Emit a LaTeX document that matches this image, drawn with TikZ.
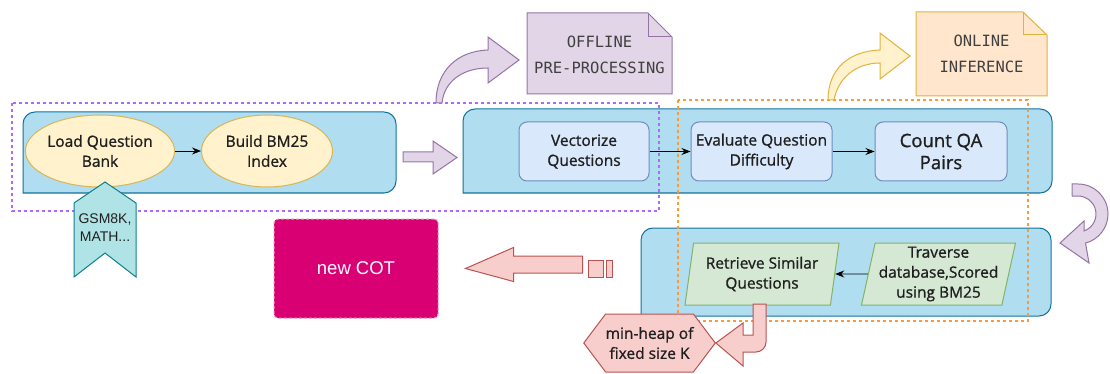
\documentclass[tikz,border=0pt]{standalone}
\usepackage{fontspec}
\setmainfont{Open Sans}[FakeBold=1]
\newfontfamily\arialfont{Liberation Sans}
\newfontfamily\notefont{DejaVu Sans Mono}
\usetikzlibrary{shapes.geometric, shapes.symbols, arrows.meta, positioning}

\definecolor{panelfill}{HTML}{B1DDF0}
\definecolor{panelline}{HTML}{10739E}
\definecolor{bubblefill}{HTML}{FFF2CC}
\definecolor{bubbleline}{HTML}{D6B656}
\definecolor{taskfill}{HTML}{DAE8FC}
\definecolor{taskline}{HTML}{6C8EBF}
\definecolor{leanfill}{HTML}{D5E8D4}
\definecolor{leanline}{HTML}{82B366}
\definecolor{heapfill}{HTML}{F8CECC}
\definecolor{heapline}{HTML}{B85450}
\definecolor{markfill}{HTML}{B0E3E6}
\definecolor{markline}{HTML}{0E8088}
\definecolor{lilacfill}{HTML}{E1D5E7}
\definecolor{lilacline}{HTML}{9673A6}
\definecolor{peachfill}{HTML}{FFE6CC}
\definecolor{goldline}{HTML}{E0B33C}
\definecolor{cotfill}{HTML}{D80073}
\definecolor{offdash}{HTML}{B266FF}
\definecolor{ondash}{HTML}{FF9933}
\definecolor{inktext}{HTML}{1F1F1F}

\newcommand{\stepfont}{\fontsize{15.5}{20}\selectfont}

\begin{document}
\begin{tikzpicture}[x=1pt, y=-1pt, line width=1pt,
    panel/.style={draw=panelline, fill=panelfill},
    bubble/.style={ellipse, draw=bubbleline, fill=bubblefill, minimum width=131pt,
        minimum height=72pt, inner sep=0pt, align=center, font=\stepfont, text=inktext},
    task/.style={rectangle, rounded corners=8pt, draw=taskline, fill=taskfill,
        minimum height=59pt, inner sep=0pt, align=center, font=\stepfont, text=inktext},
    lean/.style={trapezium, trapezium left angle=76, trapezium right angle=104,
        trapezium stretches body, draw=leanline, fill=leanfill, minimum width=154pt,
        minimum height=62pt, inner sep=0pt, align=center, font=\stepfont, text=inktext},
    region/.style={dash pattern=on 3pt off 3pt, line width=1.1pt},
    notelabel/.style={align=center, font=\notefont\fontsize{15.5}{26}\selectfont, text=black!75},
    flow/.style={-{Stealth[length=9pt, width=7pt]}, line width=0.9pt}]

\useasboundingbox (0,0) rectangle (1110,374);

% panels (bottom-left corner kept square)
\draw[panel] (23,193) -- (23,124) arc[start angle=180, end angle=270, radius=12]
    -- (384,112) arc[start angle=270, end angle=360, radius=12]
    -- (396,181) arc[start angle=0, end angle=90, radius=12] -- cycle;
\draw[panel] (463,193) -- (463,121) arc[start angle=180, end angle=270, radius=12]
    -- (1040,109) arc[start angle=270, end angle=360, radius=12]
    -- (1052,181) arc[start angle=0, end angle=90, radius=12] -- cycle;
\draw[panel] (641,316) -- (641,240) arc[start angle=180, end angle=270, radius=12]
    -- (1039,228) arc[start angle=270, end angle=360, radius=12]
    -- (1051,304) arc[start angle=0, end angle=90, radius=12] -- cycle;

% offline / online regions
\draw[region, offdash] (12,103) rectangle (659,211);
\draw[region, ondash] (678,100) rectangle (1028,321);

% offline stage
\node[bubble] (load) at (100,151) {Load Question\\Bank};
\node[bubble] (bm25) at (267,151) {Build BM25\\Index};
\draw[flow] (load) -- (bm25);

\draw[fill=markfill, draw=markline] (74,203) -- (105,182) -- (136,203) -- (136,277)
    -- (105,253) -- (74,277) -- cycle;
\node[align=center, font=\arialfont\fontsize{14}{18}\selectfont, text=inktext] (gsm) at (105,228) {GSM8K,\\MATH...};

% hand-over to the online stage
\draw[fill=lilacfill, draw=lilacline] (403,152) -- (433,152) -- (433,141) -- (457,157.5)
    -- (433,174) -- (433,162) -- (403,162) -- cycle;

% online stage, upper row
\node[task, minimum width=130pt] (vec) at (584,151.5) {Vectorize\\Questions};
\node[task, minimum width=141pt] (diff) at (761.5,151.5) {Evaluate Question\\Difficulty};
\node[task, minimum width=132pt, font=\fontsize{18.5}{22}\selectfont] (count) at (941,151.5) {Count QA\\Pairs};
\draw[flow] (vec) -- (diff);
\draw[flow] (diff) -- (count);

% turn down to the lower row
\draw[fill=lilacfill, draw=lilacline] (1072,184) -- (1078,184)
    arc[start angle=-90, end angle=75.5, radius=30]
    -- (1089,263) -- (1060,243) -- (1084,221) -- (1084,231)
    arc[start angle=70.5, end angle=-90, radius=18] -- (1072,196) -- cycle;

% online stage, lower row
\node[lean] (retr) at (762,274) {Retrieve Similar\\Questions};
\node[lean] (trav) at (938.5,274) {Traverse\\database,Scored\\using BM25};
\draw[flow] (trav) -- (retr);

\node[signal, signal to=west and east, signal pointer angle=106, draw=heapline, fill=heapfill,
    minimum width=131pt, minimum height=58pt, inner sep=0pt, align=center, font=\stepfont,
    text=inktext] (heap) at (649.5,343) {min-heap of\\fixed size K};
\draw[fill=heapfill, draw=heapline] (753,304) -- (753,335) -- (743,335) -- (743,323)
    -- (heap.east) -- (743,366) -- (743,352) -- (756,352)
    arc[start angle=90, end angle=0, radius=10] -- (766,304) -- cycle;

% result
\node[rectangle, rounded corners=4pt, fill=cotfill, draw=cotfill!45!white,
    dash pattern=on 3pt off 2pt, minimum width=164pt, minimum height=99pt,
    font=\arialfont\fontsize{18.5}{22}\selectfont, text=white] (cot) at (356,268.5) {new COT};
\draw[fill=heapfill, draw=heapline] (cot.east) ++(27,0) coordinate (tip)
    -- ++(48,-21) -- ++(0,8.5) -- ++(69,0) -- ++(0,17) -- ++(-69,0) -- ++(0,8.5) -- cycle;
\draw[fill=heapfill, draw=heapline] (588,260) rectangle (603,277);
\draw[fill=heapfill, draw=heapline] (606,260) rectangle (612,277);

% stage notes
\draw[fill=lilacfill, draw=lilacline] (436,103) .. controls (436,70) and (458,51) .. (488,50)
    -- (488,37) -- (519,60) -- (488,83) -- (488,68)
    .. controls (462,68) and (444,82) .. (442,103) -- cycle;
\draw[fill=lilacfill, draw=lilacline] (527,13) -- (648,13) -- (672,37) -- (672,94)
    -- (527,94) -- cycle;
\draw[draw=lilacline] (648,13) -- (648,37) -- (672,37);
\node[notelabel] (offnote) at (599.5,55) {OFFLINE\\PRE-PROCESSING};

\draw[fill=bubblefill, draw=goldline] (828,100) .. controls (828,68) and (850,51) .. (880,50)
    -- (880,33) -- (910,56) -- (880,79) -- (880,63)
    .. controls (856,63) and (838,78) .. (834,100) -- cycle;
\draw[fill=peachfill, draw=goldline] (916,12) -- (1023,12) -- (1047,35) -- (1047,96)
    -- (916,96) -- cycle;
\draw[draw=goldline] (1023,12) -- (1023,35) -- (1047,35);
\node[notelabel] (onnote) at (981.5,54) {ONLINE\\INFERENCE};

\end{tikzpicture}
\end{document}
